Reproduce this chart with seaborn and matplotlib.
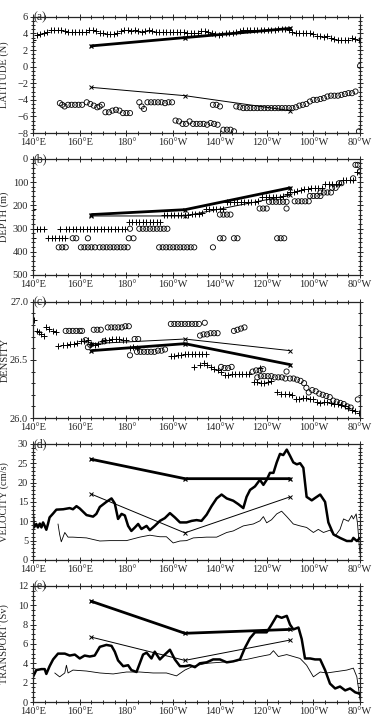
import numpy as np
import matplotlib
matplotlib.use("Agg")
import matplotlib.pyplot as plt
import seaborn as sns
from matplotlib.ticker import MultipleLocator

# station longitudes (deg east) and mean values at the moorings
stn_lon = [165, 205, 250]
a_thick = [2.5, 3.5, 4.6]
a_thin = [-2.5, -3.5, -5.3]
b_thick = [240, 219, 125]
b_thin = [246, 246, 156]
c_thick = [26.58, 26.64, 26.46]
c_thin = [26.64, 26.68, 26.58]
d_thick = [26.0, 21.0, 21.0]
d_thin = [17.0, 7.0, 16.3]
e_thick = [10.4, 7.1, 7.5]
e_thin = [6.7, 4.3, 6.4]

# (a) latitude of the northern (+) and southern (o) cores
a_plus_lon = [140, 141.5, 143, 144.5, 146, 147.5, 149, 150.5, 152, 153.5, 155, 156.5, 158, 159.5,
              161, 162.5, 164, 165.5, 167, 168.5, 170, 171.5, 173, 174.5, 176, 177.5, 179, 180.5,
              182, 183.5, 185, 186.5, 188, 189.5, 191, 192.5, 194, 195.5, 197, 198.5, 200, 201.5,
              203, 204.5, 206, 207.5, 209, 210.5, 212, 213.5, 215, 216.5, 218, 219.5, 221, 222.5,
              224, 225.5, 227, 228.5, 230, 231.5, 233, 234.5, 236, 237.5, 239, 240.5, 242, 243.5,
              245, 246.5, 248, 249.5, 251, 252.5, 254, 255.5, 257, 258.5, 260, 261.5, 263, 264.5,
              266, 267.5, 269, 270.5, 272, 273.5, 275, 276.5, 278, 279.5]
a_plus_lat = [3.2, 3.8, 3.9, 4.0, 4.2, 4.4, 4.4, 4.4, 4.4, 4.3, 4.2, 4.2, 4.2, 4.2,
              4.2, 4.2, 4.4, 4.4, 4.3, 4.1, 4.0, 3.9, 3.9, 3.9, 4.1, 4.3, 4.4, 4.4,
              4.3, 4.4, 4.3, 4.2, 4.3, 4.4, 4.3, 4.2, 4.2, 4.2, 4.2, 4.2, 4.2, 4.2,
              4.2, 4.2, 4.1, 4.0, 4.0, 4.1, 4.3, 4.3, 4.2, 4.0, 3.9, 3.8, 3.9, 4.0,
              4.0, 4.1, 4.2, 4.3, 4.4, 4.4, 4.4, 4.4, 4.4, 4.4, 4.4, 4.4, 4.4, 4.4,
              4.5, 4.5, 4.5, 4.4, 4.2, 4.0, 4.0, 4.0, 4.0, 4.0, 3.9, 3.7, 3.7, 3.6,
              3.7, 3.4, 3.3, 3.2, 3.2, 3.2, 3.2, 3.4, 3.3, 3.2]
a_circ_lon = [151.5, 152.5, 153.5, 155, 156.5, 158, 159.5, 161, 163, 164.5, 166, 167.5, 168.5, 169.5,
              171, 172.5, 174, 175.5, 177, 178.5, 180, 181.5, 185.5, 186.5, 187.5, 189, 190.5, 192,
              193.5, 195, 196.5, 198, 199.5, 201, 202.5, 204, 205.5, 207, 208.5, 210, 211.5, 213,
              214.5, 216, 217.5, 219, 217, 218.5, 220, 221.5, 223, 224.5, 226, 227, 228.5, 230,
              231.5, 233, 234.5, 236, 237.5, 239, 240.5, 242, 243.5, 245, 246.5, 248, 249.5, 251,
              252.5, 254, 255.5, 257, 258.5, 260, 261.5, 263, 264.5, 266, 267.5, 269, 270.5, 272,
              273.5, 275, 276.5, 278, 280, 279.5]
a_circ_lat = [-4.4, -4.6, -4.8, -4.6, -4.6, -4.6, -4.6, -4.6, -4.3, -4.5, -4.7, -4.9, -4.8, -4.6,
              -5.5, -5.5, -5.3, -5.2, -5.3, -5.6, -5.6, -5.6, -4.3, -4.8, -5.1, -4.3, -4.3, -4.3,
              -4.3, -4.3, -4.4, -4.3, -4.3, -6.5, -6.6, -6.9, -6.9, -6.6, -6.9, -6.9, -6.9, -6.9,
              -7.0, -6.8, -6.9, -7.0, -4.6, -4.6, -4.8, -7.6, -7.6, -7.6, -7.8, -4.8, -4.9, -5.0,
              -5.0, -5.0, -5.0, -5.0, -5.0, -5.0, -5.0, -5.0, -5.0, -5.0, -5.0, -5.0, -5.0, -5.0,
              -4.9, -4.7, -4.6, -4.5, -4.2, -4.0, -4.0, -3.9, -3.8, -3.6, -3.5, -3.5, -3.5, -3.4,
              -3.3, -3.2, -3.2, -3.0, 0.1, -7.8]

# (b) depth of the cores
b_plus_lon = [140, 140, 141.5, 143, 144.5, 146.5, 148, 149.5, 151, 151.5, 152.5, 153.5,
              154, 155.5, 157, 158.5, 160, 161.5, 163, 164.5, 166, 167.5, 169, 170.5, 172, 173.5,
              175, 176.5, 178, 179.5, 181, 182.5, 184, 185.5, 187, 188.5, 190, 191.5, 193, 194.5,
              196, 197.5, 199, 200.5, 202, 203.5, 205, 206.5, 208, 209.5, 211, 212.5, 214, 215.5,
              217, 218.5, 220, 221.5, 223, 224.5, 226, 227.5, 229, 230.5, 232, 233.5, 235, 236.5,
              238, 239.5, 241, 242.5, 244, 245.5, 247, 248.5, 250, 251.5, 253, 254.5, 256, 257.5,
              259, 260.5, 262, 263.5, 265, 266.5, 268, 269.5, 271, 272.5, 274, 275.5, 277, 278.5]
b_plus_dep = [215, 342, 301, 301, 301, 342, 342, 342, 342, 301, 342, 342,
              301, 301, 301, 301, 301, 301, 301, 301, 301, 301, 301, 301, 301, 301,
              301, 301, 301, 301, 270, 270, 270, 270, 270, 270, 270, 270, 270, 270,
              243, 243, 243, 243, 243, 241, 240, 240, 238, 236, 236, 235, 217, 217,
              217, 217, 217, 217, 185, 185, 185, 185, 185, 185, 185, 185, 184, 182,
              164, 164, 164, 164, 164, 164, 160, 150, 142, 142, 140, 135, 130, 128,
              125, 125, 125, 124, 109, 109, 109, 109, 109, 91, 91, 91, 90, 55]
b_circ_lon = [151, 152.5, 154, 157, 158.5, 160.5, 162, 163.5, 163.5, 165, 166.5, 168.5, 170, 171.5,
              173, 174.5, 176, 177.5, 179, 180.5, 181, 181.5, 183, 185.5, 187, 188.5, 190, 191.5,
              193, 194.5, 196, 197.5, 194, 195.5, 197, 198.5, 200, 201.5, 203, 204.5, 206, 207.5,
              209, 217, 220, 221.5, 223, 224.5, 220, 221.5, 226, 227.5, 237, 238.5, 240, 244.5,
              246, 247.5, 241, 242.5, 244, 245.5, 247, 248.5, 248.5, 252, 253.5, 255, 256.5, 258,
              258.5, 260, 261.5, 263, 263, 264.5, 266, 267.5, 268, 269.5, 271, 272, 277, 278, 279, 280]
b_circ_dep = [381, 381, 381, 342, 342, 381, 381, 381, 342, 381, 381, 381, 381, 381,
              381, 381, 381, 381, 381, 381, 342, 301, 342, 301, 301, 301, 301, 301,
              301, 301, 301, 301, 381, 381, 381, 381, 381, 381, 381, 381, 381, 381,
              381, 381, 240, 240, 240, 240, 342, 342, 342, 342, 214, 214, 214, 342,
              342, 342, 185, 185, 185, 185, 185, 185, 214, 183, 183, 183, 183, 183,
              160, 160, 160, 160, 145, 145, 145, 145, 125, 125, 105, 105, 84, 26, 26, 55]

# (c) density of the cores
c_plus_lon = [140.5, 141.5, 142.5, 143.5, 144.5, 145.5, 147, 148.5, 150, 150.5, 153, 154.5, 156, 157.5,
              159, 160.5, 162, 163.5, 165, 166.5, 168, 169.5, 171, 172.5, 174, 175.5, 177, 178.5,
              180, 181.5, 183, 184.5, 199, 200.5, 202, 203.5, 205, 206.5, 208, 209.5, 211, 212.5,
              214, 209, 211.5, 213, 214.5, 216, 217.5, 219, 220.5, 222, 223.5, 225, 226.5, 228,
              229.5, 231, 232.5, 237, 234.5, 236, 237.5, 239, 240.5, 242, 244.5, 246, 248, 249.5,
              251, 252.5, 254, 255.5, 257, 258.5, 260, 261.5, 263, 264.5, 266, 267.5, 269, 270.5,
              272, 273.5, 275, 276.5, 278, 279.5]
c_plus_den = [26.84, 26.75, 26.74, 26.72, 26.71, 26.78, 26.77, 26.75, 26.74, 26.62, 26.63, 26.63, 26.64, 26.64,
              26.65, 26.66, 26.66, 26.67, 26.64, 26.63, 26.64, 26.66, 26.67, 26.67, 26.68, 26.68, 26.68, 26.67,
              26.67, 26.60, 26.61, 26.60, 26.53, 26.53, 26.54, 26.54, 26.55, 26.55, 26.55, 26.55, 26.55, 26.55,
              26.55, 26.44, 26.46, 26.47, 26.46, 26.44, 26.42, 26.41, 26.40, 26.37, 26.37, 26.38, 26.38, 26.38,
              26.38, 26.38, 26.38, 26.43, 26.31, 26.31, 26.30, 26.30, 26.31, 26.32, 26.22, 26.21, 26.21, 26.21,
              26.20, 26.16, 26.16, 26.17, 26.17, 26.16, 26.16, 26.14, 26.13, 26.14, 26.14, 26.13, 26.12, 26.12,
              26.11, 26.10, 26.09, 26.07, 26.06, 26.04]
c_circ_lon = [154, 155.5, 157, 158.5, 160, 161, 162.5, 163.5, 164.5, 166, 167.5, 169, 170.5, 172,
              173.5, 175, 176.5, 178, 179.5, 181, 181.5, 183.5, 185, 184.5, 186, 187.5, 189, 190.5,
              192, 193.5, 195, 196.5, 199, 200.5, 202, 203.5, 205, 206.5, 208, 209.5, 211, 213.5,
              211.5, 213, 214.5, 216, 217.5, 219, 220.5, 222, 223.5, 225, 226, 227.5, 229, 230.5,
              234, 235.5, 237, 238.5, 236, 237.5, 239, 240.5, 242, 243.5, 245, 246.5, 248, 248.5,
              250, 251.5, 253, 254.5, 256, 257, 258, 259.5, 261, 262.5, 264, 265.5, 267, 268.5,
              270, 271.5, 273, 274.5, 276, 279]
c_circ_den = [26.75, 26.75, 26.75, 26.75, 26.75, 26.75, 26.67, 26.61, 26.63, 26.76, 26.76, 26.76, 26.66, 26.78,
              26.78, 26.78, 26.78, 26.78, 26.79, 26.79, 26.54, 26.68, 26.68, 26.57, 26.57, 26.57, 26.57, 26.57,
              26.57, 26.58, 26.58, 26.59, 26.81, 26.81, 26.81, 26.81, 26.81, 26.81, 26.81, 26.81, 26.81, 26.82,
              26.71, 26.72, 26.72, 26.73, 26.73, 26.73, 26.44, 26.43, 26.43, 26.44, 26.75, 26.76, 26.77, 26.78,
              26.40, 26.41, 26.41, 26.42, 26.35, 26.36, 26.36, 26.36, 26.36, 26.35, 26.35, 26.35, 26.34, 26.40,
              26.34, 26.34, 26.33, 26.32, 26.30, 26.26, 26.22, 26.24, 26.23, 26.21, 26.20, 26.19, 26.18, 26.15,
              26.14, 26.13, 26.12, 26.10, 26.09, 26.16]

# (d) velocity along the cores
d_thick_lon = [140, 140.4, 141.4, 142.1, 142.9, 143.6, 144.3, 145, 145.7, 146.4, 147.1, 148.6, 150, 152.9,
               155.7, 157.1, 158.6, 160, 162.9, 165.7, 167.1, 168.6, 171.4, 173.6, 175, 176.4, 177.9, 179.3,
               180.7, 182.1, 183.6, 185, 186.4, 188.6, 190, 192.1, 194.3, 196.4, 198.6, 200.7, 202.9, 205.7,
               207.9, 210, 212.1, 214.3, 216.4, 218.6, 220.7, 222.9, 225.7, 227.9, 230, 231.4, 232.9, 235,
               237.1, 238.6, 240, 241.4, 242.9, 244.3, 245.7, 247.1, 248.6, 250, 251.4, 252.9, 254.3, 255.7,
               257.1, 259.3, 260.7, 262.9, 265, 266.4, 268.6, 271.4, 274.3, 276.4, 277.1, 278.6, 280]
d_thick_vel = [11.5, 8.4, 9.3, 8.4, 9.4, 8.4, 9.7, 8.8, 7.8, 9.3, 11.0, 12.0, 13.0, 13.1,
               13.4, 13.1, 13.9, 13.3, 11.6, 11.2, 11.9, 13.7, 15.0, 15.9, 14.6, 10.6, 11.9, 11.5,
               8.8, 7.5, 8.4, 9.3, 8.0, 8.8, 7.7, 8.8, 10.1, 10.8, 12.1, 11.0, 9.7, 9.7,
               10.1, 10.3, 10.1, 11.7, 13.9, 15.9, 16.9, 15.9, 15.3, 14.4, 13.4, 16.3, 18.1, 19.0,
               20.7, 19.4, 20.7, 22.5, 22.5, 25.2, 27.4, 27.1, 28.5, 26.9, 25.2, 24.7, 25.0, 23.8,
               16.3, 15.4, 16.0, 16.9, 15.0, 9.7, 6.6, 5.7, 4.9, 4.9, 5.7, 4.9, 5.7]
d_thin_lon = [150.7, 151.4, 152.1, 153.6, 155, 157, 162.9, 165.7, 168.6, 172.9, 180, 185.7, 190, 194.3,
              197.1, 200, 202.9, 205.7, 208.6, 214.3, 218.6, 222.9, 225.7, 230, 234.3, 237.1, 238.6, 240,
              242.1, 244.3, 246.4, 248.6, 251.4, 254.3, 257.1, 260, 262.1, 264.3, 267.1, 269.3, 271.4,
              272.9, 275, 276.4, 277.1, 278.3, 278.9, 279.7, 280.3]
d_thin_vel = [9.3, 6.6, 4.7, 7.1, 5.9, 5.9, 5.7, 5.3, 4.9, 5.0, 5.0, 5.9, 6.4, 6.0,
              6.0, 4.4, 4.9, 5.0, 5.7, 5.9, 5.9, 7.1, 7.5, 8.8, 9.3, 10.1, 11.2, 9.6,
              10.4, 11.9, 12.6, 11.2, 9.3, 8.8, 8.4, 7.1, 7.9, 7.1, 7.7, 6.2, 7.9,
              10.6, 10.0, 11.5, 10.6, 11.9, 9.3, 3.1, 0.4]

# (e) transport of the cores
e_thick_lon = [140, 141.4, 143.6, 145, 145.7, 147.1, 148.6, 150.7, 153.6, 155.7, 157.9, 160, 162.1, 164.3,
               166.4, 168.6, 171.4, 173.6, 175, 176.4, 178.6, 180.7, 182.1, 184.3, 185.7, 187.1, 188.6, 190.7,
               192.1, 194.3, 196.4, 198.6, 200.7, 202.9, 205, 207.1, 209.3, 211.4, 214.3, 217.1, 220, 222.9,
               225.7, 228.6, 230.7, 232.9, 235, 237.1, 240, 242.1, 244.3, 246.4, 248.6, 250, 251.4, 253.6,
               255, 256.4, 258.6, 260.7, 262.9, 265, 267.1, 269.3, 271.4, 273.6, 275.7, 277.9, 279.3, 280]
e_thick_tr = [2.6, 3.3, 3.4, 3.4, 2.9, 3.7, 4.4, 5.0, 5.0, 4.8, 4.9, 4.5, 4.8, 4.7,
              4.8, 5.7, 5.9, 5.8, 5.2, 4.3, 3.7, 3.8, 3.3, 3.1, 4.0, 4.9, 5.1, 4.5,
              5.2, 4.4, 4.9, 5.4, 4.4, 3.7, 3.7, 3.8, 3.6, 4.0, 4.1, 4.4, 4.4, 4.1,
              4.2, 4.4, 5.6, 6.6, 7.2, 7.2, 7.2, 8.0, 8.9, 8.7, 8.9, 8.0, 7.5, 7.7,
              6.5, 4.5, 4.5, 4.4, 4.4, 3.3, 1.9, 1.4, 1.6, 1.2, 1.4, 1.0, 0.9, 0.8]
e_thin_lon = [149.3, 151.4, 153.6, 154.3, 155, 157.1, 162.9, 168.6, 174.3, 180, 185.7, 191.4, 197.1, 201.4,
              205, 208.6, 214.3, 220, 225.7, 231.4, 237.1, 241.4, 242.9, 245, 248.6, 251.4, 254.3, 257.1,
              260, 262.9, 265.7, 268.6, 274.3, 277.1, 278.6, 280]
e_thin_tr = [3.0, 2.6, 3.0, 3.8, 3.0, 3.3, 3.2, 3.0, 2.9, 3.1, 3.1, 3.0, 3.0, 2.7,
             3.3, 3.7, 4.0, 4.1, 4.2, 4.4, 4.7, 4.9, 5.3, 4.7, 4.9, 4.7, 4.5, 3.8,
             2.6, 3.1, 3.0, 3.1, 3.3, 3.5, 2.6, 0.2]

xtick_pos = [140, 160, 180, 200, 220, 240, 260, 280]
xtick_lab = ["140°E", "160°E", "180°", "160°W", "140°W", "120°W", "100°W", "80°W"]

sns.set_style("ticks")
plt.rcParams["font.family"] = ["Liberation Serif", "DejaVu Serif"]

fig = plt.figure(figsize=(3.73, 7.17), dpi=100)
left, width, height = 0.0885, 0.877, 0.162
bottoms = [0.8145, 0.6165, 0.417, 0.219, 0.0209]
axes = [fig.add_axes([left, b, width, height]) for b in bottoms]


def stations(ax, thick, thin):
    sns.lineplot(x=stn_lon, y=thick, ax=ax, color="k", lw=2.0, marker="x", ms=3,
                 mec="k", mew=0.9, estimator=None, sort=False)
    sns.lineplot(x=stn_lon, y=thin, ax=ax, color="k", lw=0.7, marker="x", ms=3,
                 mec="k", mew=0.7, estimator=None, sort=False)


def points(ax, px, py, cx, cy):
    sns.scatterplot(x=px, y=py, ax=ax, marker="+", s=16, color="k", linewidth=0.7)
    sns.scatterplot(x=cx, y=cy, ax=ax, marker="o", s=14, facecolor="none",
                    edgecolor="k", linewidth=0.6)


ax = axes[0]
points(ax, a_plus_lon, a_plus_lat, a_circ_lon, a_circ_lat)
stations(ax, a_thick, a_thin)
ax.set_ylim(-8, 6)
ax.yaxis.set_major_locator(MultipleLocator(2))
ax.yaxis.set_minor_locator(MultipleLocator(0.5))
ax.set_ylabel("LATITUDE (N)")

ax = axes[1]
points(ax, b_plus_lon, b_plus_dep, b_circ_lon, b_circ_dep)
stations(ax, b_thick, b_thin)
ax.set_ylim(500, 0)
ax.yaxis.set_major_locator(MultipleLocator(100))
ax.yaxis.set_minor_locator(MultipleLocator(20))
ax.set_ylabel("DEPTH (m)")

ax = axes[2]
points(ax, c_plus_lon, c_plus_den, c_circ_lon, c_circ_den)
stations(ax, c_thick, c_thin)
ax.set_ylim(26.0, 27.0)
ax.yaxis.set_major_locator(MultipleLocator(0.5))
ax.yaxis.set_minor_locator(MultipleLocator(0.1))
ax.yaxis.set_major_formatter(plt.FormatStrFormatter("%.1f"))
ax.set_ylabel("DENSITY")

ax = axes[3]
sns.lineplot(x=d_thick_lon, y=d_thick_vel, ax=ax, color="k", lw=1.8, estimator=None, sort=False)
sns.lineplot(x=d_thin_lon, y=d_thin_vel, ax=ax, color="k", lw=0.6, estimator=None, sort=False)
stations(ax, d_thick, d_thin)
ax.set_ylim(0, 30)
ax.yaxis.set_major_locator(MultipleLocator(5))
ax.yaxis.set_minor_locator(MultipleLocator(1))
ax.set_ylabel("VELOCITY (cm/s)")

ax = axes[4]
sns.lineplot(x=e_thick_lon, y=e_thick_tr, ax=ax, color="k", lw=1.8, estimator=None, sort=False)
sns.lineplot(x=e_thin_lon, y=e_thin_tr, ax=ax, color="k", lw=0.6, estimator=None, sort=False)
stations(ax, e_thick, e_thin)
ax.set_ylim(0, 12)
ax.yaxis.set_major_locator(MultipleLocator(2))
ax.yaxis.set_minor_locator(MultipleLocator(0.5))
ax.set_ylabel("TRANSPORT (Sv)")

for ax, tag in zip(axes, "abcde"):
    ax.set_xlim(140, 280)
    ax.set_xticks(xtick_pos)
    ax.set_xticklabels(xtick_lab)
    ax.xaxis.set_minor_locator(MultipleLocator(5))
    ax.tick_params(which="both", direction="inout", top=True, right=True,
                   labelsize=7.5, pad=1.5, width=0.7)
    ax.tick_params(which="major", length=4)
    ax.tick_params(which="minor", length=2.5)
    ax.set_xlabel("")
    ax.yaxis.label.set_size(7.5)
    ax.yaxis.set_label_coords(-0.072, 0.5)
    for sp in ax.spines.values():
        sp.set_linewidth(0.9)
    ax.text(0.003, 1.0, f"({tag})", transform=ax.transAxes, fontsize=8.5,
            ha="left", va="center")

fig.savefig("out.png", dpi=100)
